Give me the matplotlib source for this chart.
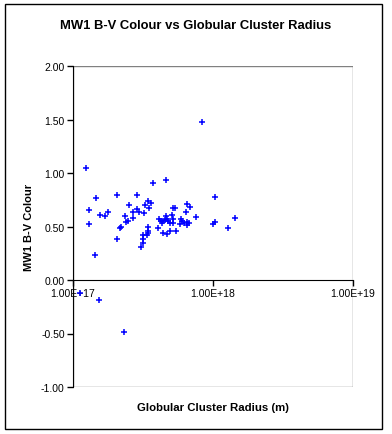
import matplotlib
matplotlib.use("Agg")
import matplotlib.pyplot as plt
from matplotlib.patches import Rectangle
from matplotlib.ticker import FixedLocator, NullLocator, FuncFormatter

plt.rcParams['font.family'] = ['Liberation Sans', 'DejaVu Sans']

# globular cluster radius (m) and MW1 B-V colour
radius = [8.39e17, 1.24e17, 3.75e17, 4.62e17, 1.47e17, 2.07e17, 2.88e17, 1.04e18,
          1.31e17, 2.52e17, 3.45e17, 3.62e17, 3.28e17, 3.51e17, 2.88e17, 2.98e17,
          2.70e17, 3.23e17, 1.79e17, 1.57e17, 1.70e17, 2.36e17, 2.70e17, 2.48e17,
          2.40e17, 1.31e17, 2.21e17, 2.18e17, 3.45e17, 2.07e17, 3.45e17, 3.45e17,
          3.18e17, 3.39e17, 3.18e17, 3.18e17, 3.07e17, 5.18e17, 5.38e17, 6.55e17,
          6.88e17, 6.45e17, 5.12e17, 4.62e17, 7.60e17, 4.11e17, 4.25e17, 4.39e17,
          4.32e17, 4.54e17, 4.69e17, 4.77e17, 4.93e17, 5.18e17, 5.18e17, 5.91e17,
          6.01e17, 5.81e17, 6.21e17, 6.52e17, 6.74e17, 6.52e17, 4.05e17, 4.42e17,
          4.72e17, 4.95e17, 5.47e17, 1.00e18, 1.04e18, 1.29e18, 1.44e18, 1.44e17,
          1.54e17, 2.32e17, 1.12e17]
colour = [1.48, 1.05, 0.91, 0.93, 0.77, 0.79, 0.79, 0.78,
          0.65, 0.70, 0.74, 0.72, 0.70, 0.67, 0.66, 0.64,
          0.64, 0.63, 0.64, 0.61, 0.60, 0.60, 0.58, 0.55,
          0.54, 0.52, 0.50, 0.49, 0.50, 0.38, 0.46, 0.44,
          0.42, 0.42, 0.38, 0.35, 0.31, 0.67, 0.67, 0.71,
          0.68, 0.64, 0.61, 0.60, 0.59, 0.57, 0.55, 0.55,
          0.53, 0.56, 0.57, 0.55, 0.53, 0.57, 0.53, 0.57,
          0.55, 0.52, 0.53, 0.51, 0.53, 0.54, 0.49, 0.44,
          0.43, 0.46, 0.46, 0.52, 0.54, 0.49, 0.58, 0.23,
          -0.19, -0.49, -0.12]

x_ticks = [1e17, 1e18, 1e19]
y_ticks = [-1.0, -0.5, 0.0, 0.5, 1.0, 1.5, 2.0]

fig = plt.figure(figsize=(3.92, 4.35), dpi=100)

# chart border
fig.patches.append(Rectangle((5 / 392, 5 / 435), 377 / 392, 425 / 435,
                             transform=fig.transFigure, fill=False,
                             edgecolor='black', linewidth=1.0))

ax = fig.add_axes([73 / 392, 47 / 435, 280 / 392, 321 / 435])
ax.set_xscale('log')
ax.set_xlim(1e17, 1e19)
ax.set_ylim(-1, 2)

ax.plot(radius, colour, linestyle='none', marker='+', color='#0000FF',
        markersize=5, markeredgewidth=1.1, clip_on=False)

# grey plot-area frame
ax.add_patch(Rectangle((0, 0), 1, 1, transform=ax.transAxes, fill=False,
                       edgecolor='#808080', linewidth=1.0, zorder=0))
ax.spines['top'].set_visible(False)
ax.spines['right'].set_visible(False)
ax.spines['left'].set_color('black')
ax.spines['bottom'].set_position(('data', 0))
ax.spines['bottom'].set_color('black')

ax.xaxis.set_major_locator(FixedLocator(x_ticks))
ax.xaxis.set_minor_locator(NullLocator())
ax.xaxis.set_major_formatter(FuncFormatter(lambda v, p: '{:.2E}'.format(v)))
ax.yaxis.set_major_locator(FixedLocator(y_ticks))
ax.yaxis.set_major_formatter(FuncFormatter(lambda v, p: '{:.2f}'.format(v)))

ax.tick_params(axis='both', direction='out', length=4, width=1,
               labelsize=7.5, colors='black', pad=2)

ax.set_xlabel('Globular Cluster Radius (m)', fontsize=8.2, fontweight='bold')
ax.xaxis.set_label_coords(0.5, -0.047)
ax.set_ylabel('MW1 B-V Colour', fontsize=8, fontweight='bold')
ax.yaxis.set_label_coords(-0.14, 0.5)

fig.text(196 / 392, 1 - 26 / 435, 'MW1 B-V Colour vs Globular Cluster Radius',
         ha='center', va='center', fontsize=9.4, fontweight='bold')

fig.savefig('out.png', dpi=100)
